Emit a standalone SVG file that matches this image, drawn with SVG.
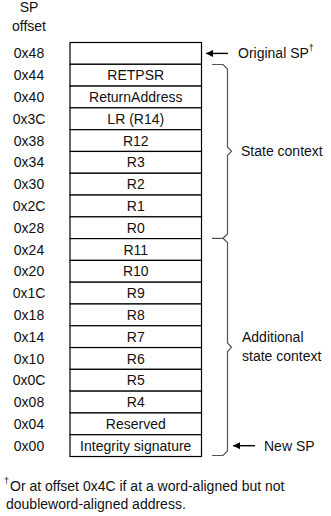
<svg xmlns="http://www.w3.org/2000/svg" width="331" height="516" viewBox="0 0 331 516">
  <style>
    text { font-family: "Liberation Sans", Arial, sans-serif; font-size: 14px; fill: #111; }
    .off { text-anchor: middle; }
    .cell-t { text-anchor: middle; }
    .cell { fill: #fff; stroke: #000; stroke-width: 1.2; }
    .brace { fill: none; stroke: #555; stroke-width: 1.2; }
    .arrow { fill: none; stroke: #000; stroke-width: 1.4; marker-end: url(#head); }
    .sup { font-size: 9px; }
  </style>
  <defs>
    <marker id="head" viewBox="0 0 10 10" refX="10" refY="5" markerWidth="5" markerHeight="5" markerUnits="strokeWidth" orient="auto">
      <path d="M0,0 L10,5 L0,10 Z" fill="#000"/>
    </marker>
  </defs>
  <rect width="331" height="516" fill="#fff"/>

  <!-- column header -->
  <g id="header">
    <text class="off" x="29" y="12">SP</text>
    <text class="off" x="29" y="31">offset</text>
  </g>

  <!-- stack frame rows, top = highest offset -->
  <g id="stack">
    <g id="row-48"><rect class="cell" x="70" y="42.5" width="131.5" height="21.79"/><text class="off" x="29" y="58.4">0x48</text></g>
    <g id="row-44"><rect class="cell" x="70" y="64.29" width="131.5" height="21.79"/><text class="off" x="29" y="80.2">0x44</text><text class="cell-t" x="135.75" y="80.2">RETPSR</text></g>
    <g id="row-40"><rect class="cell" x="70" y="86.08" width="131.5" height="21.79"/><text class="off" x="29" y="102">0x40</text><text class="cell-t" x="135.75" y="102">ReturnAddress</text></g>
    <g id="row-3C"><rect class="cell" x="70" y="107.87" width="131.5" height="21.79"/><text class="off" x="29" y="123.8">0x3C</text><text class="cell-t" x="135.75" y="123.8">LR (R14)</text></g>
    <g id="row-38"><rect class="cell" x="70" y="129.66" width="131.5" height="21.79"/><text class="off" x="29" y="145.6">0x38</text><text class="cell-t" x="135.75" y="145.6">R12</text></g>
    <g id="row-34"><rect class="cell" x="70" y="151.45" width="131.5" height="21.79"/><text class="off" x="29" y="167.4">0x34</text><text class="cell-t" x="135.75" y="167.4">R3</text></g>
    <g id="row-30"><rect class="cell" x="70" y="173.24" width="131.5" height="21.79"/><text class="off" x="29" y="189.2">0x30</text><text class="cell-t" x="135.75" y="189.2">R2</text></g>
    <g id="row-2C"><rect class="cell" x="70" y="195.03" width="131.5" height="21.79"/><text class="off" x="29" y="210.9">0x2C</text><text class="cell-t" x="135.75" y="210.9">R1</text></g>
    <g id="row-28"><rect class="cell" x="70" y="216.82" width="131.5" height="21.79"/><text class="off" x="29" y="232.7">0x28</text><text class="cell-t" x="135.75" y="232.7">R0</text></g>
    <g id="row-24"><rect class="cell" x="70" y="238.61" width="131.5" height="21.79"/><text class="off" x="29" y="254.5">0x24</text><text class="cell-t" x="135.75" y="254.5">R11</text></g>
    <g id="row-20"><rect class="cell" x="70" y="260.4" width="131.5" height="21.79"/><text class="off" x="29" y="276.3">0x20</text><text class="cell-t" x="135.75" y="276.3">R10</text></g>
    <g id="row-1C"><rect class="cell" x="70" y="282.19" width="131.5" height="21.79"/><text class="off" x="29" y="298.1">0x1C</text><text class="cell-t" x="135.75" y="298.1">R9</text></g>
    <g id="row-18"><rect class="cell" x="70" y="303.98" width="131.5" height="21.79"/><text class="off" x="29" y="319.9">0x18</text><text class="cell-t" x="135.75" y="319.9">R8</text></g>
    <g id="row-14"><rect class="cell" x="70" y="325.77" width="131.5" height="21.79"/><text class="off" x="29" y="341.7">0x14</text><text class="cell-t" x="135.75" y="341.7">R7</text></g>
    <g id="row-10"><rect class="cell" x="70" y="347.56" width="131.5" height="21.79"/><text class="off" x="29" y="363.5">0x10</text><text class="cell-t" x="135.75" y="363.5">R6</text></g>
    <g id="row-0C"><rect class="cell" x="70" y="369.35" width="131.5" height="21.79"/><text class="off" x="29" y="385.3">0x0C</text><text class="cell-t" x="135.75" y="385.3">R5</text></g>
    <g id="row-08"><rect class="cell" x="70" y="391.14" width="131.5" height="21.79"/><text class="off" x="29" y="407.1">0x08</text><text class="cell-t" x="135.75" y="407.1">R4</text></g>
    <g id="row-04"><rect class="cell" x="70" y="412.93" width="131.5" height="21.79"/><text class="off" x="29" y="428.9">0x04</text><text class="cell-t" x="135.75" y="428.9">Reserved</text></g>
    <g id="row-00"><rect class="cell" x="70" y="434.72" width="131.5" height="21.79"/><text class="off" x="29" y="450.7">0x00</text><text class="cell-t" x="135.75" y="450.7">Integrity signature</text></g>
  </g>

  <!-- pointers and braces -->
  <g id="connectors">
    <line class="arrow" x1="228" y1="53.4" x2="206" y2="53.4"/>
    <line class="arrow" x1="255" y1="445.7" x2="233" y2="445.7"/>
    <path class="brace" d="M212,64.5 H223 L227.5,69 V147 L231.5,151.3 L227.5,155.5 V234 L223,238.3 H212 M223,238.3 L227.5,242.5 V343 L231.5,347.3 L227.5,351.5 V451 L223,455.5 H212"/>
  </g>

  <g id="label-original-sp">
    <text x="238" y="58">Original SP<tspan class="sup" dy="-7">†</tspan></text>
  </g>
  <g id="label-state-context">
    <text x="241" y="156">State context</text>
  </g>
  <g id="label-additional">
    <text x="242" y="342">Additional</text>
    <text x="242" y="361">state context</text>
  </g>
  <g id="label-new-sp">
    <text x="264" y="450.5">New SP</text>
  </g>

  <!-- footnote -->
  <g id="footnote">
    <text x="4" y="491"><tspan class="sup" dy="-7">†</tspan><tspan x="10" dy="7">Or at offset 0x4C if at a word-aligned but not</tspan></text>
    <text x="6" y="508.5">doubleword-aligned address.</text>
  </g>
</svg>
